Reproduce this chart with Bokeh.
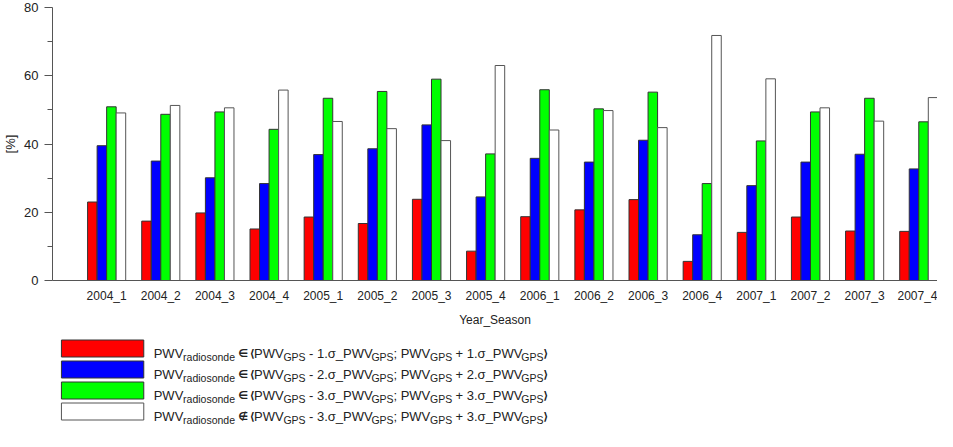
from bokeh.plotting import figure
from bokeh.models import Range1d, FixedTicker
from bokeh.layouts import column
from bokeh.embed import file_html
from bokeh.resources import INLINE
from bokeh.core.properties import value

# ---------------- data ----------------
categories = ["2004_1", "2004_2", "2004_3", "2004_4",
              "2005_1", "2005_2", "2005_3", "2005_4",
              "2006_1", "2006_2", "2006_3", "2006_4",
              "2007_1", "2007_2", "2007_3", "2007_4"]
within_1sigma = [23.0, 17.4, 19.8, 15.1, 18.6, 16.7, 23.8, 8.6,
                 18.7, 20.7, 23.7, 5.6, 14.1, 18.6, 14.5, 14.4]
within_2sigma = [39.5, 35.0, 30.1, 28.4, 36.9, 38.6, 45.6, 24.5,
                 35.8, 34.7, 41.1, 13.4, 27.8, 34.7, 37.0, 32.7]
within_3sigma = [50.9, 48.7, 49.4, 44.3, 53.4, 55.4, 59.0, 37.1,
                 55.9, 50.3, 55.2, 28.4, 40.9, 49.4, 53.4, 46.5]
outside_3sigma = [49.1, 51.3, 50.6, 55.8, 46.6, 44.5, 41.0, 63.0,
                  44.1, 49.8, 44.8, 71.8, 59.1, 50.6, 46.7, 53.6]
y_ticks = [0, 20, 40, 60, 80]
y_minor_ticks = [10, 30, 50, 70]
x_title = "Year_Season"
y_title = "[%]"
legend_ops = ["∈", "∈", "∈", "∉"]
legend_k = ["1", "2", "3", "3"]

series = [within_1sigma, within_2sigma, within_3sigma, outside_3sigma]
colors = ["#FF0000", "#0000FF", "#00FF00", "#FFFFFF"]
edge_colors = ["#333333", "#333333", "#333333", "#555555"]

FONT = "Liberation Sans"
AXIS_COLOR = "#555555"
TEXT_COLOR = "#222222"

# ---------------- main chart ----------------
TOTAL_W = 937
LEFT = 45
FRAME_W = TOTAL_W - LEFT
PX_PER_CAT = 54.57
BAR_W = 0.176

p = figure(width=TOTAL_W, height=329,
           min_border_left=LEFT, min_border_right=0,
           min_border_top=7, min_border_bottom=44,
           x_range=Range1d(0, FRAME_W / PX_PER_CAT), y_range=Range1d(0, 80),
           output_backend="svg", toolbar_location=None, tools="")
p.xgrid.visible = False
p.ygrid.visible = False
p.outline_line_color = None
p.background_fill_color = "white"
p.border_fill_color = "white"

n = len(categories)
for k, (vals, fc, lc) in enumerate(zip(series, colors, edge_colors)):
    xs = [i + 1 + (k - 1.5) * BAR_W for i in range(n)]
    p.vbar(x=xs, top=vals, bottom=0, width=BAR_W,
           fill_color=fc, line_color=lc, line_width=1)

# y axis
p.yaxis.ticker = FixedTicker(ticks=y_ticks, minor_ticks=y_minor_ticks)
p.yaxis.axis_line_color = AXIS_COLOR
p.yaxis.major_tick_line_color = AXIS_COLOR
p.yaxis.minor_tick_line_color = AXIS_COLOR
p.yaxis.major_tick_out = 8
p.yaxis.major_tick_in = 0
p.yaxis.minor_tick_out = 5
p.yaxis.minor_tick_in = 0
p.yaxis.major_label_text_font = FONT
p.yaxis.major_label_text_font_size = "13px"
p.yaxis.major_label_text_color = TEXT_COLOR
p.yaxis.major_label_standoff = 6
p.yaxis.axis_label = y_title
p.yaxis.axis_label_text_font = FONT
p.yaxis.axis_label_text_font_size = "13px"
p.yaxis.axis_label_text_font_style = "normal"
p.yaxis.axis_label_text_color = TEXT_COLOR
p.yaxis.axis_label_standoff = 3

# x axis
p.xaxis.ticker = FixedTicker(ticks=list(range(1, n + 1)), minor_ticks=[])
p.xaxis.major_label_overrides = {i + 1: c for i, c in enumerate(categories)}
p.xaxis.axis_line_color = AXIS_COLOR
p.xaxis.major_tick_line_color = None
p.xaxis.minor_tick_line_color = None
p.xaxis.major_tick_out = 0
p.xaxis.major_tick_in = 0
p.xaxis.major_label_text_font = FONT
p.xaxis.major_label_text_font_size = "12px"
p.xaxis.major_label_text_color = TEXT_COLOR
p.xaxis.major_label_standoff = 8
p.xaxis.axis_label = x_title
p.xaxis.axis_label_text_font = FONT
p.xaxis.axis_label_text_font_size = "12px"
p.xaxis.axis_label_text_font_style = "normal"
p.xaxis.axis_label_text_color = TEXT_COLOR
p.xaxis.axis_label_standoff = 7

# ---------------- legend (own drawing area, 1 unit = 1 px) ----------------
LH = 95
lg = figure(width=TOTAL_W, height=LH,
            min_border_left=LEFT, min_border_right=0,
            min_border_top=0, min_border_bottom=0,
            x_range=Range1d(LEFT, TOTAL_W), y_range=Range1d(LH, 0),
            x_axis_type=None, y_axis_type=None,
            output_backend="svg", toolbar_location=None, tools="")
lg.outline_line_color = None
lg.xgrid.visible = False
lg.ygrid.visible = False
lg.background_fill_color = "white"
lg.border_fill_color = "white"

BOX_X, BOX_W, BOX_H = 54, 83, 17
ROW0, ROW_STEP = 19, 21
TEXT_X = 147
MAIN_SZ, SUB_SZ = 13.0, 10.5

row_y = [ROW0 + r * ROW_STEP for r in range(len(colors))]
lg.rect(x=[BOX_X + BOX_W / 2] * len(colors), y=row_y, width=BOX_W, height=BOX_H,
        fill_color=colors, line_color=edge_colors, line_width=1)

ADV = {' ': 278, '-': 333, '.': 278, ';': 278, '+': 584, '_': 556,
       'P': 667, 'W': 944, 'V': 667, 'G': 778, 'S': 667, 'r': 333,
       'a': 556, 'd': 556, 'i': 222, 'o': 556, 's': 500, 'n': 556,
       'e': 556, 'σ': 560, '∈': 620, '∉': 620, '⟨': 330, '⟩': 330}


def adv(s, size):
    return sum(ADV.get(c, 556) for c in s) / 1000.0 * size


main_t, sub_t, sym_t = ([], [], []), ([], [], []), ([], [], [])
for r, (op, k) in enumerate(zip(legend_ops, legend_k)):
    base = row_y[r] + 4.5
    pieces = [("PWV", "m"), ("radiosonde", "s"), (" ", "m"), (op, "b"), (" ", "m"),
              ("⟨", "b"), ("PWV", "m"), ("GPS", "s"), (" ", "m"), ("- " + k + ".σ_PWV", "m"),
              ("GPS", "s"), ("; PWV", "m"), ("GPS", "s"), (" ", "m"),
              ("+ " + k + ".σ_PWV", "m"), ("GPS", "s"), ("⟩", "b")]
    x = TEXT_X
    for txt, kind in pieces:
        if kind == "s":
            tgt, y, sz = sub_t, base + 3.5, SUB_SZ
        elif kind == "b":
            tgt, y, sz = sym_t, base, MAIN_SZ
        else:
            tgt, y, sz = main_t, base, MAIN_SZ
        if txt.strip():
            tgt[0].append(x)
            tgt[1].append(y)
            tgt[2].append(txt)
        x += adv(txt, sz)

lg.text(x=main_t[0], y=main_t[1], text=main_t[2], text_font=value(FONT),
        text_font_size=f"{MAIN_SZ}px", text_baseline="alphabetic",
        text_align="left", text_color=TEXT_COLOR)
lg.text(x=sub_t[0], y=sub_t[1], text=sub_t[2], text_font=value(FONT),
        text_font_size=f"{SUB_SZ}px", text_baseline="alphabetic",
        text_align="left", text_color=TEXT_COLOR)
lg.text(x=sym_t[0], y=sym_t[1], text=sym_t[2], text_font=value("DejaVu Sans"),
        text_font_size="11px", text_font_style="bold", text_baseline="alphabetic",
        text_align="left", text_color=TEXT_COLOR)

layout = column(p, lg, spacing=0)
open("out.html", "w").write(file_html(layout, INLINE))
